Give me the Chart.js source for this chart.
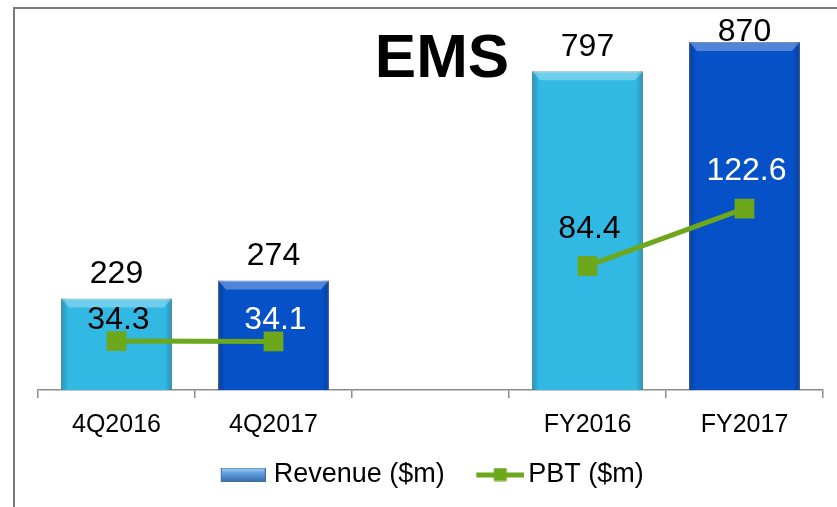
<!DOCTYPE html>
<html>
<head>
<meta charset="utf-8">
<script src="https://cdn.jsdelivr.net/npm/chart.js@4.4.1/dist/chart.umd.min.js"></script>
<style>
  html, body { margin: 0; padding: 0; background: #fff; }
  #wrap { position: relative; width: 837px; height: 507px; overflow: hidden; }
  #frame { position: absolute; left: 13px; top: 7px; width: 900px; height: 600px;
           border-top: 2px solid #7a7a7a; border-left: 2px solid #7a7a7a; }
  canvas { position: absolute; left: 0; top: 0; }
</style>
</head>
<body>
<div id="wrap">
  <div id="frame"></div>
  <canvas id="ems_chart" width="837" height="507"></canvas>
</div>
<script>
  // values
  const periods = ['4Q2016', '4Q2017', '', 'FY2016', 'FY2017']
  const revenue = [229, 274, null, 797, 870]
  const pbt = [34.3, 34.1, null, 84.4, 122.6]

  const FONT = '"Liberation Sans", Arial, sans-serif'
  const GREEN = '#6ca71c'
  const barColors = ['#31b9e4', '#0651c8', '#31b9e4', '#31b9e4', '#0651c8']
  const barEdges = ['#4a9fbd', '#3b5fa8', '#4a9fbd', '#4a9fbd', '#3b5fa8']
  // PBT labels sit above the marker, black on light bars and white on dark ones
  const pbtLabelColors = ['#000', '#fff', '#000', '#000', '#fff']
  const pbtLabelLift = [21, 21, 0, 37, 37]

  const makeRevenueSwatch = () => {
    const c = document.createElement('canvas')
    c.width = 75
    c.height = 14
    const g = c.getContext('2d')
    const grad = g.createLinearGradient(0, 0, 0, 14)
    grad.addColorStop(0, '#a9d2f3')
    grad.addColorStop(0.45, '#5b9be0')
    grad.addColorStop(1, '#3a6eab')
    g.fillStyle = grad
    g.fillRect(30, 0.5, 45, 13)
    g.strokeStyle = '#4470a0'
    g.lineWidth = 1
    g.strokeRect(30.5, 0.5, 44, 13)
    return c
  }

  const makePbtSwatch = () => {
    const c = document.createElement('canvas')
    c.width = 83
    c.height = 14
    const g = c.getContext('2d')
    g.fillStyle = GREEN
    g.fillRect(35, 5, 48, 5)
    g.fillRect(52.5, 0.5, 13, 13)
    return c
  }

  const legendSwatches = [makeRevenueSwatch(), makePbtSwatch()]

  // light top bevel and darker side edges, like the office-style bars
  const barBevel = {
    id: 'barBevel',
    afterDatasetDraw(chart, args) {
      if (args.index !== 0) return
      const ctx = chart.ctx
      ctx.save()
      args.meta.data.forEach((bar, i) => {
        if (revenue[i] == null) return
        const left = bar.x - bar.width / 2
        const right = bar.x + bar.width / 2
        const top = bar.y
        const bottom = bar.base
        let g = ctx.createLinearGradient(left, 0, left + 7, 0)
        g.addColorStop(0, 'rgba(0,0,0,0.22)')
        g.addColorStop(1, 'rgba(0,0,0,0)')
        ctx.fillStyle = g
        ctx.fillRect(left, top, 7, bottom - top)
        g = ctx.createLinearGradient(right - 7, 0, right, 0)
        g.addColorStop(0, 'rgba(0,0,0,0)')
        g.addColorStop(1, 'rgba(0,0,0,0.22)')
        ctx.fillStyle = g
        ctx.fillRect(right - 7, top, 7, bottom - top)
        ctx.fillStyle = 'rgba(255,255,255,0.3)'
        ctx.beginPath()
        ctx.moveTo(left, top)
        ctx.lineTo(right, top)
        ctx.lineTo(right - 8, top + 9)
        ctx.lineTo(left + 8, top + 9)
        ctx.closePath()
        ctx.fill()
      })
      ctx.restore()
    }
  }

  const valueLabels = {
    id: 'valueLabels',
    afterDatasetsDraw(chart) {
      const ctx = chart.ctx
      ctx.save()
      ctx.font = '32px ' + FONT
      ctx.textAlign = 'center'
      ctx.textBaseline = 'middle'
      chart.getDatasetMeta(0).data.forEach((bar, i) => {
        if (revenue[i] == null) return
        ctx.fillStyle = '#000'
        ctx.fillText(String(revenue[i]), bar.x, Math.max(bar.y - 24, chart.chartArea.top + 2))
      })
      chart.getDatasetMeta(1).data.forEach((pt, i) => {
        if (pbt[i] == null) return
        ctx.fillStyle = pbtLabelColors[i]
        ctx.fillText(pbt[i].toFixed(1), pt.x + 2, pt.y - pbtLabelLift[i])
      })
      ctx.restore()
    }
  }

  const chartTitle = {
    id: 'chartTitle',
    afterDraw(chart) {
      const ctx = chart.ctx
      ctx.save()
      ctx.font = 'bold 62px ' + FONT
      ctx.fillStyle = '#000'
      ctx.textAlign = 'center'
      ctx.textBaseline = 'middle'
      ctx.fillText('EMS', 442, 60)
      ctx.restore()
    }
  }

  // the slide's legend sits a little left of the plot centre
  const legendNudge = {
    id: 'legendNudge',
    afterLayout(chart) {
      chart.legend.left -= 11
      chart.legend.right -= 11
    }
  }

  const chart = new Chart(document.getElementById('ems_chart').getContext('2d'), {
    type: 'bar',
    data: {
      labels: periods,
      datasets: [{
        type: 'bar',
        label: 'Revenue ($m)',
        data: revenue,
        backgroundColor: barColors,
        borderColor: barEdges,
        borderWidth: 1,
        barPercentage: 0.706,
        categoryPercentage: 1,
        yAxisID: 'y',
        order: 1
      }, {
        type: 'line',
        label: 'PBT ($m)',
        data: pbt,
        borderColor: GREEN,
        backgroundColor: GREEN,
        borderWidth: 5,
        pointStyle: 'rect',
        pointRadius: 14,
        pointBorderWidth: 0,
        spanGaps: false,
        tension: 0,
        yAxisID: 'y1',
        order: 0
      }]
    },
    options: {
      responsive: false,
      animation: false,
      layout: { padding: { top: 30, left: 38, right: 13, bottom: 9 } },
      plugins: {
        tooltip: { enabled: false },
        legend: {
          position: 'bottom',
          labels: {
            usePointStyle: true,
            pointStyleWidth: 64,
            padding: 6,
            color: '#000',
            font: { family: FONT, size: 27 },
            sort: (a, b) => a.datasetIndex - b.datasetIndex,
            generateLabels: (c) => Chart.defaults.plugins.legend.labels.generateLabels(c).map(item => {
              item.pointStyle = legendSwatches[item.datasetIndex]
              return item
            })
          }
        }
      },
      scales: {
        x: {
          offset: true,
          grid: {
            offset: true,
            drawOnChartArea: false,
            drawTicks: true,
            tickLength: 8,
            color: '#8c8c8c',
            lineWidth: 1.5
          },
          border: { display: true, color: '#8c8c8c', width: 1.5 },
          ticks: {
            color: '#000',
            padding: 12,
            font: { family: FONT, size: 25 }
          },
          afterFit: (scale) => { scale.height = 65 }
        },
        y: { display: false, min: 0, max: 900 },
        y1: { display: false, min: 1.7, max: 241.7 }
      }
    },
    plugins: [barBevel, valueLabels, chartTitle, legendNudge]
  })
</script>
</body>
</html>
